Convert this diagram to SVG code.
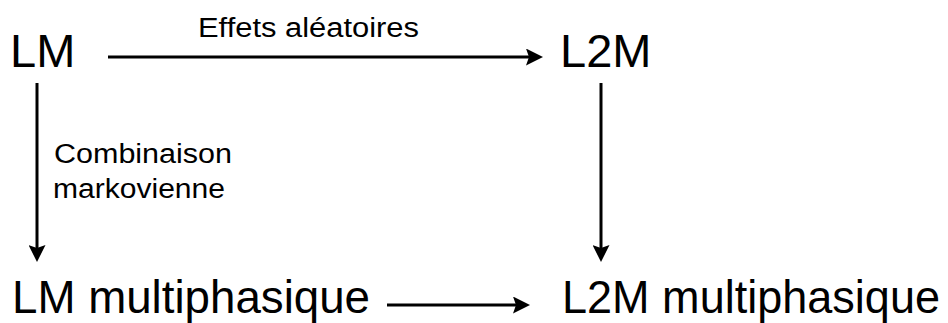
<svg xmlns="http://www.w3.org/2000/svg" width="948" height="323" viewBox="0 0 948 323">
<style>
.big{font-family:"Liberation Sans",Arial,sans-serif;font-size:47px;fill:#000}
.big2{font-family:"Liberation Sans",Arial,sans-serif;font-size:46px;fill:#000}
.lbl{font-family:"Liberation Sans",Arial,sans-serif;font-size:27px;fill:#000}
.conn{stroke:#000;stroke-width:3;fill:none}
</style>
<defs>
<marker id="ah" markerUnits="userSpaceOnUse" markerWidth="17" markerHeight="17" refX="8" refY="8.5" orient="auto">
<path d="M0,0 L17,8.5 L0,17 L3,8.5 z" fill="#000"/>
</marker>
</defs>
<rect width="948" height="323" fill="#fff"/>
<g id="connectors">
<line class="conn" x1="108" y1="57" x2="534" y2="57" marker-end="url(#ah)"/>
<line class="conn" x1="37" y1="83" x2="37" y2="253" marker-end="url(#ah)"/>
<line class="conn" x1="601" y1="83" x2="601" y2="253" marker-end="url(#ah)"/>
<line class="conn" x1="387" y1="305" x2="521" y2="305" marker-end="url(#ah)"/>
<text class="lbl" x="198" y="37" textLength="221" lengthAdjust="spacingAndGlyphs">Effets aléatoires</text>
<text class="lbl" x="54" y="163" textLength="178" lengthAdjust="spacingAndGlyphs">Combinaison</text>
<text class="lbl" x="53" y="198" textLength="172" lengthAdjust="spacingAndGlyphs">markovienne</text>
</g>
<g id="LM"><text class="big" x="10" y="67">LM</text></g>
<g id="L2M"><text class="big" x="560" y="67">L2M</text></g>
<g id="LMmulti"><text class="big2" x="12" y="313" textLength="358" lengthAdjust="spacingAndGlyphs">LM multiphasique</text></g>
<g id="L2Mmulti"><text class="big2" x="562" y="313" textLength="378" lengthAdjust="spacingAndGlyphs">L2M multiphasique</text></g>
</svg>
